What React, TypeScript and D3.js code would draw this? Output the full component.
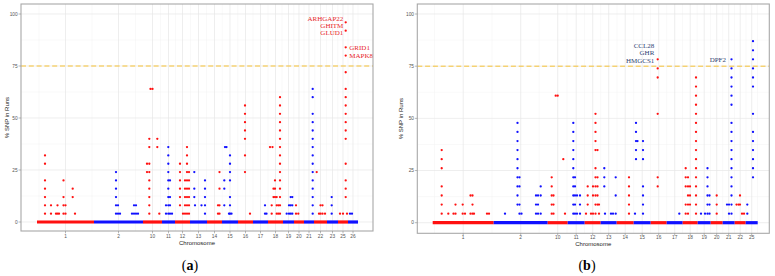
import React from "react";
import * as d3 from "d3";

// ---------- Panel (a) data ----------
const chromLabelsA = ["1", "2", "10", "11", "12", "13", "14", "15", "16", "17", "18", "19", "20", "21", "22", "23", "25", "26"];
const chromLengthsA = [57, 49, 19, 13, 15, 17, 15, 16, 15, 15, 15, 11, 10, 10, 13, 11, 10, 10];
const animalsA = 25;
// [chromosome, position within chromosome, numbers of animals with the SNP in a run]
const snpA: [string, number, number[]][] = [
  ["1", 8, [1, 2, 3, 4, 5, 7, 8]],
  ["1", 14, [1, 2]],
  ["1", 19, [1]],
  ["1", 20.5, [1, 2]],
  ["1", 22, [1]],
  ["1", 26.5, [1, 2, 3, 5]],
  ["1", 28.5, [1, 2]],
  ["1", 35.7, [3, 4]],
  ["1", 38, [1]],
  ["2", 22, [1, 2, 3, 4, 5, 6]],
  ["2", 24, [1, 2]],
  ["2", 26, [1]],
  ["2", 38, [1]],
  ["2", 40, [1, 2]],
  ["2", 42, [1, 2]],
  ["2", 44, [1]],
  ["10", 4, [6, 7]],
  ["10", 6.3, [1, 2, 3, 4, 5, 6, 7, 9, 10]],
  ["10", 7.5, [16]],
  ["10", 9.5, [16]],
  ["10", 14.3, [9, 10]],
  ["10", 16.3, [1]],
  ["11", 4, [1, 2]],
  ["11", 6.3, [1, 2, 3, 4, 5, 6, 7, 8, 9]],
  ["11", 8, [1, 2, 3, 5]],
  ["11", 10, [1]],
  ["12", 5, [2, 3, 4, 5, 6, 7]],
  ["12", 8, [1]],
  ["12", 10, [1, 2, 3, 4, 5]],
  ["12", 12, [1, 2, 3, 4, 5, 6, 7, 8, 9]],
  ["12", 14, [1, 2, 3, 4, 5, 6]],
  ["13", 4.3, [3, 4, 6]],
  ["13", 5, [2]],
  ["13", 11.5, [2]],
  ["13", 15, [1, 2, 3, 4, 5]],
  ["14", 11, [1, 2]],
  ["14", 12.5, [1, 2, 4, 6]],
  ["15", 2.3, [2, 4, 5]],
  ["15", 3, [9]],
  ["15", 4.5, [9]],
  ["15", 7, [1]],
  ["15", 8, [1, 2, 3, 5, 6, 7, 8]],
  ["15", 9.5, [1]],
  ["16", 7, [6, 8, 10, 11, 12, 13, 14]],
  ["16", 12, [1]],
  ["17", 12, [1, 2]],
  ["17", 13.5, [1]],
  ["18", 2, [9]],
  ["18", 3.7, [1, 2]],
  ["18", 4.5, [9]],
  ["18", 5.5, [3, 4]],
  ["18", 7, [3, 4, 5]],
  ["18", 8.7, [1, 2, 3]],
  ["18", 10.3, [1, 2]],
  ["18", 12, [1, 2, 3, 4, 5, 6, 7, 8, 9, 10, 11, 12, 13, 14, 15]],
  ["19", 3.7, [1]],
  ["19", 6, [1, 2]],
  ["19", 7.7, [1, 2, 3]],
  ["19", 9.3, [1, 2, 3]],
  ["20", 2, [1, 2]],
  ["20", 4.3, [1]],
  ["21", 8.7, [1, 2, 3, 4, 5, 6, 7, 8, 9, 10, 11, 12, 13, 15, 16]],
  ["22", 2.7, [6]],
  ["22", 5, [1]],
  ["22", 6.5, [1, 2]],
  ["22", 8.5, [1, 2]],
  ["22", 11, [1]],
  ["23", 4.7, [1, 2, 3]],
  ["25", 2, [1]],
  ["25", 5, [1]],
  ["25", 7.7, [3, 4, 5, 7, 10, 11, 12, 13, 14, 15, 16, 18, 20, 21, 23, 24]],
  ["25", 9, [1]],
  ["26", 2, [1]],
  ["26", 4, [1]],
];
// [gene, chromosome, position, count, side]
const genesA: [string, string, number, number, string][] = [
  ["ARHGAP22", "25", 7.7, 24, "left"],
  ["GHITM", "25", 7.7, 24, "left"],
  ["GLUD1", "25", 7.7, 23, "left"],
  ["GRID1", "25", 7.7, 21, "right"],
  ["MAPK8", "25", 7.7, 20, "right"],
];

// ---------- Panel (b) data ----------
const chromLabelsB = ["1", "2", "10", "11", "12", "13", "14", "15", "16", "17", "18", "19", "20", "21", "22", "25"];
const chromLengthsB = [61, 54, 20, 17, 16, 16, 17, 17, 16, 16, 15, 13, 12, 12, 11, 12];
const animalsB = 23;
const snpB: [string, number, number[]][] = [
  ["1", 9, [1, 2, 3, 4, 6, 7, 8]],
  ["1", 15.6, [1]],
  ["1", 20.8, [1]],
  ["1", 22.8, [1, 2]],
  ["1", 30, [1, 2]],
  ["1", 32.3, [1]],
  ["1", 37.8, [1, 3]],
  ["1", 39.8, [1, 2, 3]],
  ["1", 41.3, [1]],
  ["1", 54.3, [1]],
  ["1", 56.3, [1]],
  ["2", 11.3, [1]],
  ["2", 23.8, [2, 3, 4, 5, 6, 7, 8, 9, 10, 11]],
  ["2", 25.8, [1, 2, 4, 5]],
  ["2", 27.8, [1]],
  ["2", 42.3, [1, 2, 3]],
  ["2", 44.3, [1, 2, 3]],
  ["2", 47, [1, 3, 4]],
  ["10", 4, [1, 2, 3, 4, 5]],
  ["10", 5.8, [1, 2, 3]],
  ["10", 8, [14]],
  ["10", 10, [14]],
  ["10", 15.6, [7]],
  ["10", 17.3, [1]],
  ["11", 5.6, [1, 2, 3, 4, 5, 6, 7, 8, 9, 10, 11]],
  ["11", 7.3, [1, 2, 3, 4, 5]],
  ["11", 9.3, [1, 3]],
  ["11", 12.3, [1, 2, 3]],
  ["12", 1.3, [1]],
  ["12", 3, [2, 3, 4]],
  ["12", 6.3, [1]],
  ["12", 8.3, [1, 3, 4]],
  ["12", 10.8, [1, 2, 3, 4, 5, 6, 8, 9, 10, 11, 12]],
  ["12", 12.8, [2, 3, 4, 5, 8]],
  ["12", 14.3, [1, 2]],
  ["13", 3.6, [4, 5, 6]],
  ["13", 4.3, [1]],
  ["13", 10.3, [1]],
  ["13", 12.3, [1]],
  ["13", 15, [1, 3, 5]],
  ["14", 12.3, [1, 2, 3, 4, 5]],
  ["15", 1.3, [1]],
  ["15", 2.3, [7, 8, 9, 10, 11]],
  ["15", 3.8, [9]],
  ["15", 9.3, [1, 2, 3, 4, 7, 8, 9]],
  ["16", 7, [4, 5, 12, 16, 17, 18]],
  ["17", 12.6, [1]],
  ["18", 3, [1, 2, 4, 5, 6]],
  ["18", 5.3, [1, 2, 3, 4, 5]],
  ["18", 7.3, [2, 3, 4]],
  ["18", 13.3, [1, 2, 3, 4, 5, 6, 7, 8, 9, 10, 11, 12, 13, 14, 15, 16]],
  ["19", 3.3, [1]],
  ["19", 7.3, [1]],
  ["19", 9.8, [1, 2, 3, 4, 5, 6]],
  ["19", 11.8, [1, 2, 3]],
  ["20", 6, [1, 2, 3]],
  ["21", 4.3, [2]],
  ["21", 6.3, [1, 2]],
  ["21", 8.8, [1, 2, 3, 4, 5, 6, 7, 8, 9, 10, 11, 13, 14, 15, 16, 17, 18]],
  ["22", 1.8, [2]],
  ["22", 3.8, [2]],
  ["22", 5.3, [2, 3]],
  ["22", 7.3, [1]],
  ["22", 9.3, [1]],
  ["25", 1.6, [1, 2]],
  ["25", 7.3, [5, 6, 7, 8, 9, 10, 12, 15, 16, 17, 18, 19, 20]],
];
const genesB: [string, string, number, number, string][] = [
  ["CCL28", "16", 7, 18, "left"],
  ["GHR", "16", 7, 18, "left"],
  ["HMGCS1", "16", 7, 18, "left"],
  ["DPF2", "21", 8.8, 18, "left"],
];

const yTicks = [0, 25, 50, 75, 100];
const yMinor = [12.5, 37.5, 62.5, 87.5];
const threshold = 75;

const RED = "#ff1010";
const BLUE = "#1010ff";
const SANS = "'Liberation Sans', Arial, sans-serif";
const SERIF = "'Liberation Serif', 'Times New Roman', serif";

type Cfg = {
  labels: string[];
  lengths: number[];
  snps: [string, number, number[]][];
  animals: number;
  genes: [string, string, number, number, string][];
  geneColor: string;
  geneOffsets: [number, number][];
  left: number;
  right: number;
  top: number;
  bottom: number;
  y0: number;
  y100: number;
  xDomain: [number, number];
  tickY: number;
  titleY: number;
  yTitleX: number;
  panelLabel: string;
  panelLabelX: number;
};

function Panel({ c }: { c: Cfg }) {
  const x = d3.scaleLinear().domain(c.xDomain).range([c.left, c.right]);
  const y = d3.scaleLinear().domain([0, 100]).range([c.y0, c.y100]);
  const starts: number[] = [];
  let acc = 0;
  c.lengths.forEach((l) => {
    starts.push(acc);
    acc += l;
  });
  const idx = new Map(c.labels.map((l, i) => [l, i]));
  const centers = c.lengths.map((l, i) => starts[i] + l / 2);
  const minors: number[] = [];
  minors.push(centers[0] - (centers[1] - centers[0]) / 2);
  for (let i = 0; i < centers.length - 1; i++) minors.push((centers[i] + centers[i + 1]) / 2);
  const n = centers.length;
  minors.push(centers[n - 1] + (centers[n - 1] - centers[n - 2]) / 2);
  const color = (chrom: string) => ((idx.get(chrom) as number) % 2 === 0 ? RED : BLUE);
  const pct = (k: number) => (k / c.animals) * 100;

  const points: { cx: number; cy: number; fill: string }[] = [];
  c.snps.forEach(([chrom, pos, counts]) => {
    const i = idx.get(chrom) as number;
    counts.forEach((k) => {
      points.push({ cx: x(starts[i] + pos), cy: y(pct(k)), fill: color(chrom) });
    });
  });

  const midY = (c.top + c.bottom) / 2;
  return (
    <g>
      <rect x={c.left} y={c.top} width={c.right - c.left} height={c.bottom - c.top} fill="#fff" />
      {yMinor.map((v) => (
        <line key={"ym" + v} x1={c.left} x2={c.right} y1={y(v)} y2={y(v)} stroke="#f3f3f3" strokeWidth={0.5} />
      ))}
      {minors.map((v, i) => (
        <line key={"xm" + i} x1={x(v)} x2={x(v)} y1={c.top} y2={c.bottom} stroke="#f3f3f3" strokeWidth={0.5} />
      ))}
      {yTicks.map((v) => (
        <line key={"yg" + v} x1={c.left} x2={c.right} y1={y(v)} y2={y(v)} stroke="#e6e6e6" strokeWidth={0.7} />
      ))}
      {centers.map((v, i) => (
        <line key={"xg" + i} x1={x(v)} x2={x(v)} y1={c.top} y2={c.bottom} stroke="#e6e6e6" strokeWidth={0.7} />
      ))}
      {/* dense SNPs with 0% in runs */}
      {c.lengths.map((l, i) => (
        <line
          key={"band" + i}
          x1={x(starts[i])}
          x2={x(starts[i] + l)}
          y1={y(0)}
          y2={y(0)}
          stroke={i % 2 === 0 ? RED : BLUE}
          strokeWidth={3.2}
        />
      ))}
      {points.map((p, i) => (
        <circle key={"p" + i} cx={p.cx} cy={p.cy} r={1.15} fill={p.fill} />
      ))}
      <line
        x1={c.left}
        x2={c.right}
        y1={y(threshold)}
        y2={y(threshold)}
        stroke="#f7c235"
        strokeWidth={1}
        strokeDasharray="5,2.8"
      />
      {c.genes.map(([g, chrom, pos, k, side], i) => {
        const ci = idx.get(chrom) as number;
        const px = x(starts[ci] + pos);
        const py = y(pct(k));
        const [dx, dy] = c.geneOffsets[i];
        return (
          <text
            key={g}
            x={px + dx}
            y={py + dy}
            textAnchor={side === "left" ? "end" : "start"}
            dominantBaseline="central"
            fontFamily={SERIF}
            fontSize={7}
            fill={c.geneColor}
          >
            {g}
          </text>
        );
      })}
      <rect
        x={c.left}
        y={c.top}
        width={c.right - c.left}
        height={c.bottom - c.top}
        fill="none"
        stroke="#a8a8a8"
        strokeWidth={1.1}
      />
      {yTicks.map((v) => (
        <g key={"yt" + v}>
          <line x1={c.left - 2.5} x2={c.left} y1={y(v)} y2={y(v)} stroke="#8a8a8a" strokeWidth={0.6} />
          <text
            x={c.left - 3.3}
            y={y(v)}
            textAnchor="end"
            dominantBaseline="central"
            fontFamily={SANS}
            fontSize={4.8}
            fill="#555"
          >
            {v}
          </text>
        </g>
      ))}
      {centers.map((v, i) => (
        <g key={"xt" + i}>
          <line x1={x(v)} x2={x(v)} y1={c.bottom} y2={c.bottom + 2.3} stroke="#8a8a8a" strokeWidth={0.6} />
          <text
            x={x(v)}
            y={c.tickY}
            textAnchor="middle"
            dominantBaseline="central"
            fontFamily={SANS}
            fontSize={4.8}
            fill="#555"
          >
            {c.labels[i]}
          </text>
        </g>
      ))}
      <text
        x={(c.left + c.right) / 2}
        y={c.titleY}
        textAnchor="middle"
        dominantBaseline="central"
        fontFamily={SANS}
        fontSize={6}
        fill="#222"
      >
        Chromosome
      </text>
      <text
        transform={`translate(${c.yTitleX},${midY}) rotate(-90)`}
        textAnchor="middle"
        dominantBaseline="central"
        fontFamily={SANS}
        fontSize={6}
        fill="#222"
      >
        % SNP in Runs
      </text>
      <text x={c.panelLabelX} y={270} textAnchor="middle" fontFamily={SERIF} fontSize={14} fill="#000">
        (<tspan fontWeight="bold">{c.panelLabel}</tspan>)
      </text>
    </g>
  );
}

const cfgA: Cfg = {
  labels: chromLabelsA,
  lengths: chromLengthsA,
  snps: snpA,
  animals: animalsA,
  genes: genesA,
  geneColor: "#e8262a",
  geneOffsets: [
    [-2.4, -3.3],
    [-2.4, 3.7],
    [-2.4, 2.4],
    [3.6, 0.4],
    [3.6, 0.1],
  ],
  left: 21,
  right: 373,
  top: 4,
  bottom: 231,
  y0: 222,
  y100: 14,
  xDomain: [-16, 336],
  tickY: 236.3,
  titleY: 243.3,
  yTitleX: 7,
  panelLabel: "a",
  panelLabelX: 190,
};

const cfgB: Cfg = {
  labels: chromLabelsB,
  lengths: chromLengthsB,
  snps: snpB,
  animals: animalsB,
  genes: genesB,
  geneColor: "#2f4373",
  geneOffsets: [
    [-3.4, -13.7],
    [-3.4, -6.7],
    [-3.4, 1.3],
    [-5.5, 0.3],
  ],
  left: 417.3,
  right: 769.3,
  top: 4,
  bottom: 233.3,
  y0: 222.7,
  y100: 14,
  xDomain: [-15.4, 336.6],
  tickY: 237,
  titleY: 244.3,
  yTitleX: 401,
  panelLabel: "b",
  panelLabelX: 587,
};

export default function App() {
  return (
    <svg
      width={775}
      height={276}
      style={{ position: "absolute", left: 0, top: 0, background: "#fff" }}
      xmlns="http://www.w3.org/2000/svg"
    >
      <rect width={775} height={276} fill="#fff" />
      <Panel c={cfgA} />
      <Panel c={cfgB} />
    </svg>
  );
}
